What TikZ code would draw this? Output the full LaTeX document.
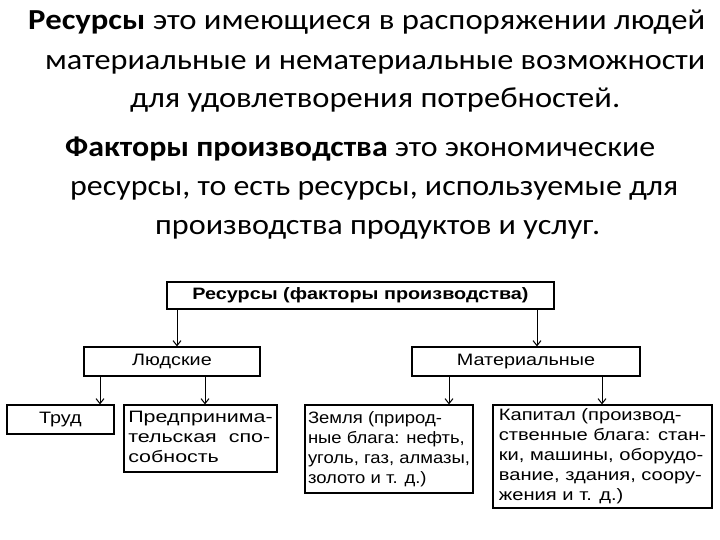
\documentclass[tikz,border=0pt]{standalone}
\usepackage{fontspec}
\setmainfont{Carlito}
\newfontfamily\boxfont{Liberation Sans}
\usepackage{graphicx}
\usetikzlibrary{arrows.meta,positioning}
% stretch one line of the heading to a given width
\newcommand{\wline}[2]{\resizebox{#1}{\height}{#2}}
% lines inside a box, set a little wide
\newcommand{\wbox}[2][1.3]{\scalebox{#1}[1]{\begin{tabular}{@{}l@{}}#2\end{tabular}}}

\begin{document}
\begin{tikzpicture}[x=1pt,y=-1pt,
    hline/.style={font=\fontsize{29}{33}\selectfont,anchor=base west,inner sep=0pt},
    blk/.style={draw,line width=1.2pt,inner xsep=2pt,inner ysep=0pt,font=\boxfont\fontsize{16.5}{20}\selectfont},
    arr/.style={line width=1pt,-{Straight Barb[length=5pt,width=8pt]}}]
  \useasboundingbox (0,0) rectangle (720,540);
  % heading
  \node[hline] (l1) at (28,30)  {\wline{677pt}{\textbf{Ресурсы} это имеющиеся в распоряжении людей}};
  \node[hline] (l2) at (45,70)  {\wline{660pt}{материальные и нематериальные возможности}};
  \node[hline] (l3) at (130,108) {\wline{490pt}{для удовлетворения потребностей.}};
  \node[hline] (l4) at (65,157) {\wline{590pt}{\textbf{Факторы производства} это экономические}};
  \node[hline] (l5) at (70,196) {\wline{608pt}{ресурсы, то есть ресурсы, используемые для}};
  \node[hline] (l6) at (155,234) {\wline{445pt}{производства продуктов и услуг.}};
  % scheme
  \node[blk,minimum width=387pt,minimum height=27pt] (res) at (360.5,295.5)
      {\scalebox{1.2}[1]{\bfseries Ресурсы (факторы производства)}};
  \node[blk,minimum width=176pt,minimum height=29pt] (lyud) at (172,361.5) {\wbox[1.2]{Людские}};
  \node[blk,minimum width=228pt,minimum height=29pt] (mat) at (526,361.5) {\wbox[1.2]{Материальные}};
  \node[blk,minimum width=107pt,minimum height=29pt] (trud) at (60.5,419.5) {\wbox[1.2]{Труд}};
  \node[blk,minimum width=153pt,minimum height=67pt] (pred) at (200.5,438.5)
      {\wbox{Предпринима-\\тельская\ \ спо-\\собность}};
  \node[blk,minimum width=168pt,minimum height=88pt] (zem) at (389,449)
      {\wbox[1.12]{Земля (природ-\\ные блага: нефть,\\уголь, газ, алмазы,\\золото и т. д.)}};
  \node[blk,minimum width=219pt,minimum height=103pt] (kap) at (602.5,456.5)
      {\wbox[1.22]{Капитал (производ-\\ственные блага: стан-\\ки, машины, оборудо-\\вание, здания, соору-\\жения и т. д.)}};
  \coordinate (a1) at (177,0);
  \coordinate (a2) at (537,0);
  \coordinate (a3) at (100,0);
  \coordinate (a4) at (205,0);
  \coordinate (a5) at (449,0);
  \coordinate (a6) at (602,0);
  \draw[arr] (res.south -| a1) -- (lyud.north -| a1);
  \draw[arr] (res.south -| a2) -- (mat.north -| a2);
  \draw[arr] (lyud.south -| a3) -- (trud.north -| a3);
  \draw[arr] (lyud.south -| a4) -- (pred.north -| a4);
  \draw[arr] (mat.south -| a5) -- (zem.north -| a5);
  \draw[arr] (mat.south -| a6) -- (kap.north -| a6);
\end{tikzpicture}
\end{document}
